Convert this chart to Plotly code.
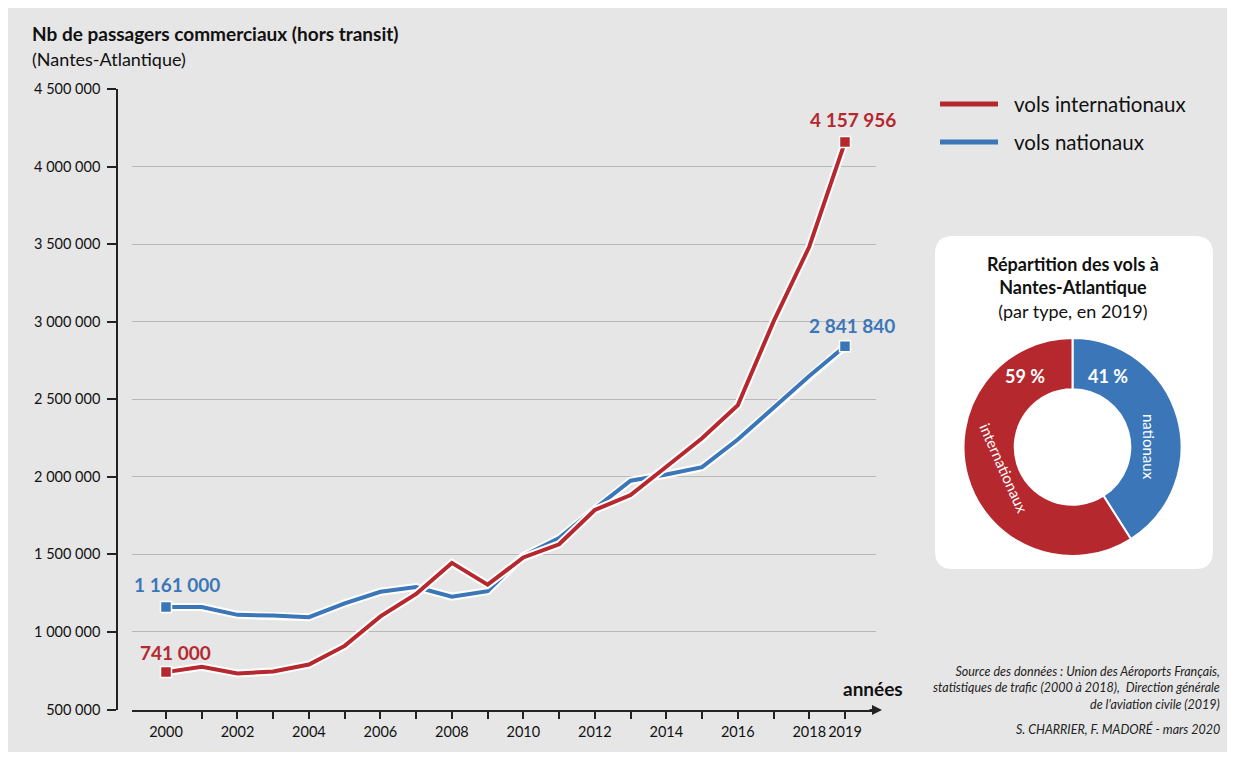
import plotly.graph_objects as go

# ---- data ----
years = list(range(2000, 2020))
intl = [741000, 775000, 732000, 745000, 790000, 910000, 1100000, 1245000, 1445000, 1305000,
        1480000, 1565000, 1786000, 1882000, 2065000, 2248000, 2461000, 3000000, 3483000, 4157956]
natl = [1161000, 1160000, 1110000, 1106000, 1095000, 1184000, 1259000, 1289000, 1227000, 1263000,
        1490000, 1605000, 1795000, 1975000, 2015000, 2062000, 2240000, 2445000, 2650000, 2841840]
ytick_vals = [500000, 1000000, 1500000, 2000000, 2500000, 3000000, 3500000, 4000000, 4500000]
ytick_text = ["500 000", "1 000 000", "1 500 000", "2 000 000", "2 500 000",
              "3 000 000", "3 500 000", "4 000 000", "4 500 000"]
xtick_vals = years
xtick_text = [str(y) if (y % 2 == 0 or y == 2019) else "" for y in years]
pie_labels = ["nationaux", "internationaux"]
pie_values = [41, 59]

RED = "#b5282e"
BLUE = "#3b77b8"
BG = "#e6e6e6"
FONT = "Lato"
OFF = 8  # default body margin of the html page
W, H = 1235 - 2 * OFF, 760 - 2 * OFF


def px(p):
    return (p - OFF) / W


def py(p):
    return 1 - (p - OFF) / H


fig = go.Figure()

# white halos then coloured lines
for vals, col in [(natl, BLUE), (intl, RED)]:
    fig.add_trace(go.Scatter(x=years, y=vals, mode="lines",
                             line=dict(color="white", width=8), hoverinfo="skip",
                             showlegend=False))
    fig.add_trace(go.Scatter(x=years, y=vals, mode="lines",
                             line=dict(color=col, width=4), showlegend=False))
    fig.add_trace(go.Scatter(x=[years[0], years[-1]], y=[vals[0], vals[-1]], mode="markers",
                             marker=dict(symbol="square", size=11, color=col,
                                         line=dict(color="white", width=1.5)),
                             showlegend=False))

# donut
fig.add_trace(go.Pie(labels=pie_labels, values=pie_values, hole=0.53, sort=False,
                     direction="clockwise", rotation=0,
                     marker=dict(colors=[BLUE, RED], line=dict(color="white", width=2)),
                     textinfo="none", hoverinfo="label+percent", showlegend=False,
                     domain=dict(x=[px(963), px(1182)], y=[py(556), py(338)])))

shapes = [
    dict(type="rect", xref="paper", yref="paper", x0=0, x1=1, y0=0, y1=py(9),
         fillcolor=BG, line=dict(width=0), layer="below"),
    # rounded white box
    dict(type="path", xref="paper", yref="paper", layer="below",
         path=("M {a},{t} L {b},{t} Q {r},{t} {r},{t2} L {r},{bo2} Q {r},{bo} {b},{bo} "
               "L {a},{bo} Q {l},{bo} {l},{bo2} L {l},{t2} Q {l},{t} {a},{t} Z").format(
             l=px(935), r=px(1213), a=px(953), b=px(1195),
             t=py(236), t2=py(254), bo=py(569), bo2=py(551)),
         fillcolor="white", line=dict(width=0)),
    # legend lines
    dict(type="line", xref="paper", yref="paper", x0=px(940), x1=px(998), y0=py(104), y1=py(104),
         line=dict(color=RED, width=5)),
    dict(type="line", xref="paper", yref="paper", x0=px(940), x1=px(998), y0=py(142), y1=py(142),
         line=dict(color=BLUE, width=5)),
]

annotations = [
    dict(text="<b>Nb de passagers commerciaux (hors transit)</b>", x=px(30), y=py(34),
         xref="paper", yref="paper", xanchor="left", yanchor="middle", showarrow=False,
         font=dict(size=19, color="#111")),
    dict(text="(Nantes-Atlantique)", x=px(30), y=py(59), xref="paper", yref="paper",
         xanchor="left", yanchor="middle", showarrow=False, font=dict(size=18, color="#111")),
    dict(text="vols internationaux", x=px(1012), y=py(104), xref="paper", yref="paper",
         xanchor="left", yanchor="middle", showarrow=False, font=dict(size=20.5, color="#111")),
    dict(text="vols nationaux", x=px(1012), y=py(142), xref="paper", yref="paper",
         xanchor="left", yanchor="middle", showarrow=False, font=dict(size=20.5, color="#111")),
    dict(text="<b>années</b>", x=px(873), y=py(688), xref="paper", yref="paper",
         xanchor="center", yanchor="middle", showarrow=False, font=dict(size=19, color="#111")),
    # axis arrow
    dict(text="", x=px(882), y=py(710), xref="paper", yref="paper", showarrow=True,
         ax=-14, ay=0, arrowhead=2, arrowsize=1, arrowwidth=2, arrowcolor="#222"),
    # value labels
    dict(text="<b>741 000</b>", x=2000, y=intl[0], xref="x", yref="y", showarrow=False,
         xshift=10, yshift=20, font=dict(size=19, color=RED)),
    dict(text="<b>1 161 000</b>", x=2000, y=natl[0], xref="x", yref="y", showarrow=False,
         xshift=11, yshift=22, font=dict(size=19, color=BLUE)),
    dict(text="<b>4 157 956</b>", x=2019, y=intl[-1], xref="x", yref="y", showarrow=False,
         xshift=8, yshift=23, font=dict(size=19, color=RED)),
    dict(text="<b>2 841 840</b>", x=2019, y=natl[-1], xref="x", yref="y", showarrow=False,
         xshift=7, yshift=21, font=dict(size=19, color=BLUE)),
    # donut box texts
    dict(text="<b>Répartition des vols à<br>Nantes-Atlantique</b><br>(par type, en 2019)",
         x=px(1073), y=py(287), xref="paper", yref="paper", showarrow=False,
         xanchor="center", yanchor="middle", align="center",
         font=dict(size=18, color="#111")),
    dict(text="<b>59 %</b>", x=px(1025), y=py(376), xref="paper", yref="paper", showarrow=False,
         xanchor="center", yanchor="middle", font=dict(size=18, color="white")),
    dict(text="<b>41 %</b>", x=px(1108), y=py(376), xref="paper", yref="paper", showarrow=False,
         xanchor="center", yanchor="middle", font=dict(size=18, color="white")),
    dict(text="internationaux", x=px(1004), y=py(468), xref="paper", yref="paper",
         showarrow=False, textangle=66, xanchor="center", yanchor="middle",
         font=dict(size=15, color="white")),
    dict(text="nationaux", x=px(1149), y=py(447), xref="paper", yref="paper",
         showarrow=False, textangle=90, xanchor="center", yanchor="middle",
         font=dict(size=15, color="white")),
    # source
    dict(text="<i>Source des données : Union des Aéroports Français,<br>"
              "statistiques de trafic (2000 à 2018),  Direction générale<br>"
              "de l'aviation civile (2019)</i>",
         x=px(1222), y=py(688), xref="paper", yref="paper", showarrow=False,
         xanchor="right", yanchor="middle", align="right",
         font=dict(size=12.5, color="#222", family="Lato")),
    dict(text="<i>S. CHARRIER, F. MADORÉ - mars 2020</i>",
         x=px(1222), y=py(729), xref="paper", yref="paper", showarrow=False,
         xanchor="right", yanchor="middle", font=dict(size=12.5, color="#222", family="Lato")),
]

fig.update_layout(
    width=W, height=H, margin=dict(l=0, r=0, t=0, b=0, pad=0, autoexpand=False),
    paper_bgcolor=BG, plot_bgcolor=BG,
    font=dict(family=FONT, color="#111"),
    shapes=shapes, annotations=annotations,
    xaxis=dict(domain=[px(132), px(876)], range=[1999.049, 2019.868], automargin=False,
               tickvals=xtick_vals, ticktext=xtick_text, ticks="outside", ticklen=8,
               tickcolor="#222", tickwidth=1.5, showline=True, linecolor="#222", linewidth=1.5,
               showgrid=False, zeroline=False, tickfont=dict(size=14.5, color="#111")),
    yaxis=dict(domain=[py(709.5), py(89)], range=[500000, 4500000], automargin=False,
               tickvals=ytick_vals, ticktext=ytick_text, anchor="free", position=px(117),
               ticks="outside", ticklen=9, tickcolor="#222", tickwidth=1.5,
               ticklabelstandoff=4,
               showline=True, linecolor="#222", linewidth=1.5,
               showgrid=True, gridcolor="#b8b8b8", gridwidth=1, zeroline=False,
               tickfont=dict(size=14.5, color="#111")),
)

fig.write_html("out.html")
